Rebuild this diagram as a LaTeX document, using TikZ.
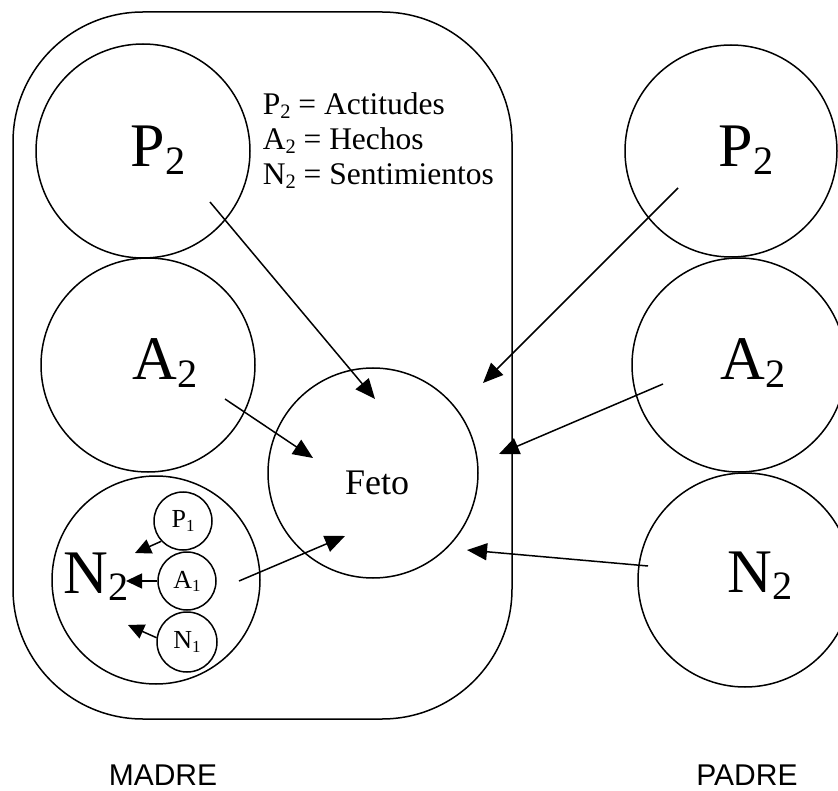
\documentclass[tikz,border=0pt]{standalone}
\usepackage{fontspec}
\setmainfont{Liberation Serif}
\newfontfamily\arialfont{Liberation Sans}
\usetikzlibrary{arrows.meta}

\newcommand{\baja}[1]{\raisebox{-0.12em}{\scalebox{0.65}{#1}}}

\begin{document}
\begin{tikzpicture}[x=1pt,y=-1pt,line width=1.5pt,
  circ/.style={circle,draw,inner sep=0pt,minimum size=#1},
  big/.style={font=\fontsize{62}{62}\selectfont,anchor=base west,inner sep=0pt},
  small/.style={font=\fontsize{26}{26}\selectfont},
  rotulo/.style={font=\arialfont\fontsize{30}{30}\selectfont,anchor=base,inner sep=0pt},
  arr/.style={-{Triangle[length=20pt,width=17pt]}},
  sarr/.style={-{Triangle[length=16pt,width=15pt]}}]
\useasboundingbox (0,0) rectangle (838,791);

\node[draw,rounded corners=130pt,minimum width=499pt,minimum height=707pt,inner sep=0pt] (madrebox) at (262.5,365.5) {};

\node[circ=214pt] (lp2) at (143,151) {};
\node[circ=214pt] (la2) at (148,365) {};
\node[circ=208pt] (ln2) at (156,580) {};
\node[circ=210pt] (feto) at (373,473) {};
\node[circ=212pt] (rp2) at (731,151) {};
\node[circ=214pt] (ra2) at (739,365) {};
\node[circ=214pt] (rn2) at (745,580) {};

\node[circ=58pt,small] (p1) at (183,521) {P\baja{1}};
\node[circ=58pt,small] (a1) at (187,581) {A\baja{1}};
\node[circ=60pt,small] (n1) at (187,642) {N\baja{1}};

\node[big] (lp2t) at ([shift={(-13,16)}]lp2.center) {P\baja{2}};
\node[big] (la2t) at ([shift={(-16,15)}]la2.center) {A\baja{2}};
\node[big] (ln2t) at ([shift={(-93,13)}]ln2.center) {N\baja{2}};
\node[big] (rp2t) at ([shift={(-13,16)}]rp2.center) {P\baja{2}};
\node[big] (ra2t) at ([shift={(-19,15)}]ra2.center) {A\baja{2}};
\node[big] (rn2t) at ([shift={(-18,12)}]rn2.center) {N\baja{2}};
\node[font=\fontsize{36}{36}\selectfont,anchor=base,inner sep=0pt] (fetot) at ([shift={(4,21)}]feto.center) {Feto};

\node[font=\fontsize{31.5}{35}\selectfont,align=left,anchor=north west,inner sep=0pt] (leyenda) at (262,92)
  {P\baja{2} = Actitudes\\A\baja{2} = Hechos\\N\baja{2} = Sentimientos};

\node[rotulo] (madre) at (163,785) {MADRE};
\node[rotulo] (padre) at (747,785) {PADRE};

\draw[arr] ([shift={(67,51)}]lp2.center) -- ([shift={(2,-74)}]feto.center);
\draw[arr] ([shift={(77,34)}]la2.center) -- ([shift={(-60,-15)}]feto.center);
\draw[arr] ([shift={(83,1)}]ln2.center) -- ([shift={(-28,63)}]feto.center);
\draw[arr] ([shift={(-53,37)}]rp2.center) -- ([shift={(110,-90)}]feto.center);
\draw[arr] ([shift={(-76,19)}]ra2.center) -- ([shift={(126,-19)}]feto.center);
\draw[arr] ([shift={(-97,-14)}]rn2.center) -- ([shift={(94,77)}]feto.center);

\draw[sarr] (p1.223) -- ([shift={(-48,32)}]p1.center);
\draw[sarr] (a1.west) -- ([shift={(-61,0)}]a1.center);
\draw[sarr] (n1.172) -- ([shift={(-59,-17)}]n1.center);
\end{tikzpicture}
\end{document}
